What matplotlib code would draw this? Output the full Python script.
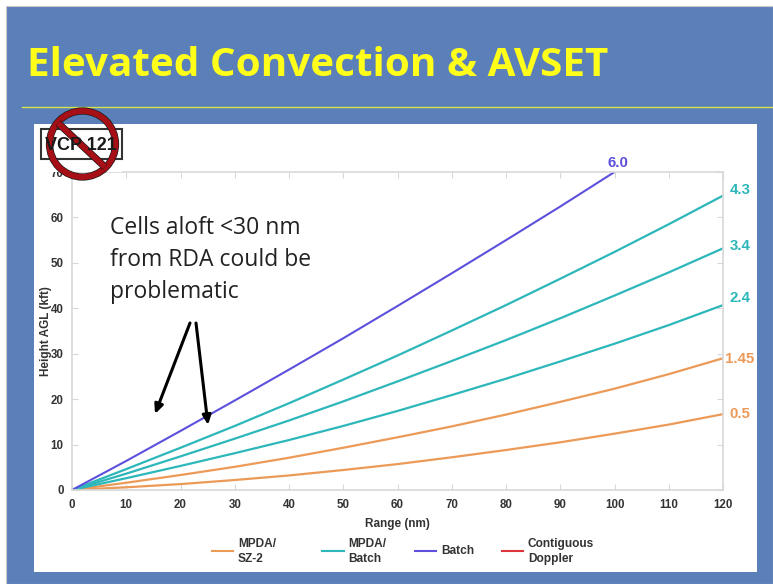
import matplotlib
matplotlib.use('Agg')
import matplotlib.pyplot as plt
from matplotlib.patches import Rectangle, Circle

#---Data
RANGE = [0, 10, 20, 30, 40, 50, 60, 70, 80, 90, 100, 110, 120]
ELEV_05 = [0, 0.6, 1.3, 2.2, 3.2, 4.4, 5.7, 7.2, 8.8, 10.5, 12.4, 14.4, 16.7]
ELEV_145 = [0, 1.6, 3.3, 5.1, 7.1, 9.3, 11.6, 14.0, 16.6, 19.4, 22.3, 25.5, 29.0]
ELEV_24 = [0, 2.6, 5.3, 8.1, 11.0, 14.1, 17.4, 20.9, 24.5, 28.3, 32.2, 36.3, 40.7]
ELEV_34 = [0, 3.6, 7.4, 11.3, 15.3, 19.5, 23.9, 28.4, 33.0, 37.8, 42.8, 47.9, 53.2]
ELEV_43 = [0, 4.6, 9.3, 14.1, 19.1, 24.3, 29.6, 35.1, 40.7, 46.5, 52.4, 58.5, 64.8]
RANGE_60 = [0, 10, 20, 30, 40, 50, 60, 70, 80, 90, 100]
ELEV_60 = [0, 6.4, 13.0, 19.7, 26.5, 33.4, 40.5, 47.7, 55.0, 62.4, 70.0]
X_TICKS = [0, 10, 20, 30, 40, 50, 60, 70, 80, 90, 100, 110, 120]
Y_TICKS = [0, 10, 20, 30, 40, 50, 60, 70]

W, H = 773, 584
BLUE = '#5A7FB9'
ORANGE = '#EC9A58'
TEAL = '#2DB7BA'
PURPLE = '#5C50DC'
RED = '#E0343C'
DARK = '#333333'
GREY = '#D8D8D8'

plt.rcParams['font.family'] = ['Liberation Sans', 'DejaVu Sans']
fig = plt.figure(figsize=(W / 100, H / 100), dpi=100, facecolor='white')

#---Slide background, in pixel coordinates
bg = fig.add_axes([0, 0, 1, 1], zorder=0)
bg.set_xlim(0, W)
bg.set_ylim(H, 0)
bg.axis('off')
bg.add_patch(Rectangle((6, 6), W - 6, H - 6, fc=BLUE, ec='#C8C8C8', lw=0.8))
bg.add_patch(Rectangle((34, 124), 723, 448, fc='white', ec='none'))
bg.plot([22, 773], [107, 107], color='#D9E34A', lw=1)
bg.text(27, 65, 'Elevated Convection & AVSET', color='#FFFF1A', fontsize=29.1,
        fontweight='bold', family='Open Sans', va='center', ha='left')

#---Chart
ax = fig.add_axes([72 / W, 1 - 490 / H, (723 - 72) / W, (490 - 172) / H], zorder=1)
ax.patch.set_alpha(0)
for y in (ELEV_05, ELEV_145):
    ax.plot(RANGE, y, color=ORANGE, lw=1.6, solid_capstyle='butt')
for y in (ELEV_24, ELEV_34, ELEV_43):
    ax.plot(RANGE, y, color=TEAL, lw=1.6, solid_capstyle='butt')
ax.plot(RANGE_60, ELEV_60, color=PURPLE, lw=1.5, solid_capstyle='butt')
ax.set_xlim(0, 120)
ax.set_ylim(0, 70)
ax.set_xticks(X_TICKS)
ax.set_yticks(Y_TICKS)
ax.tick_params(axis='both', direction='in', length=4, width=0.8, color=GREY,
               top=True, right=True, labelsize=8.3, labelcolor=DARK)
ax.tick_params(axis='x', pad=6.5)
ax.tick_params(axis='y', pad=6)
for lab in ax.get_xticklabels() + ax.get_yticklabels():
    lab.set_fontweight('bold')
for s in ax.spines.values():
    s.set_color(GREY)
    s.set_linewidth(1.2)
ax.set_xlabel('Range (nm)', fontsize=8.5, fontweight='bold', color=DARK, labelpad=5)
ax.set_ylabel('Height AGL (kft)', fontsize=8.5, fontweight='bold', color=DARK, labelpad=-1)

#---Overlay: elevation labels, legend, note, arrows, VCP sign
top = fig.add_axes([0, 0, 1, 1], zorder=2)
top.set_xlim(0, W)
top.set_ylim(H, 0)
top.axis('off')

for txt, x, y, c in [('6.0', 618, 163, PURPLE), ('4.3', 740, 190, TEAL),
                     ('3.4', 740, 246, TEAL), ('2.4', 740, 298, TEAL),
                     ('1.45', 739.5, 359, ORANGE), ('0.5', 740, 414, ORANGE)]:
    top.text(x, y, txt, color=c, fontsize=10.8, fontweight='bold', ha='center', va='center')

for x0, x1, c, lx, txt in [(212, 233, ORANGE, 238, 'MPDA/\nSZ-2'),
                           (322, 344, TEAL, 348, 'MPDA/\nBatch'),
                           (415, 436, PURPLE, 441, 'Batch'),
                           (502, 523, RED, 528, 'Contiguous\nDoppler')]:
    top.plot([x0, x1], [551, 551], color=c, lw=1.5)
    top.text(lx, 551.5, txt, color=DARK, fontsize=8.6, fontweight='bold', va='center',
             ha='left', linespacing=1.3)

top.text(110, 260, 'Cells aloft <30 nm\nfrom RDA could be\nproblematic', color='#222222',
         fontsize=16.5, family='Open Sans', va='center', ha='left', linespacing=1.46)
for start, end in [((190, 323), (155, 414)), ((196, 323), (208, 425))]:
    top.annotate('', xy=end, xytext=start,
                 arrowprops=dict(arrowstyle='-|>,head_width=0.25,head_length=0.55',
                                 color='black', lw=2.2, shrinkA=0, shrinkB=0))

# white of the pasted sign cuts off the top of the 70 label
top.add_patch(Rectangle((34, 159), 88, 12.5, fc='white', ec='none'))
top.add_patch(Rectangle((41, 129), 81, 30, fc='white', ec='#333333', lw=1.5))
top.text(81, 145, 'VCP 121', color='#1A1A1A', fontsize=13, fontweight='bold',
         ha='center', va='center')
top.add_patch(Circle((82.5, 144), 33, fc='none', ec='#1A1A1A', lw=5.2))
top.add_patch(Circle((82.5, 144), 33, fc='none', ec='#A50F15', lw=4.2))
top.plot([58, 105], [123, 167], color='#1A1A1A', lw=5.2, solid_capstyle='butt')
top.plot([58, 105], [123, 167], color='#A50F15', lw=4.2, solid_capstyle='butt')

fig.savefig('out.png', dpi=100)
